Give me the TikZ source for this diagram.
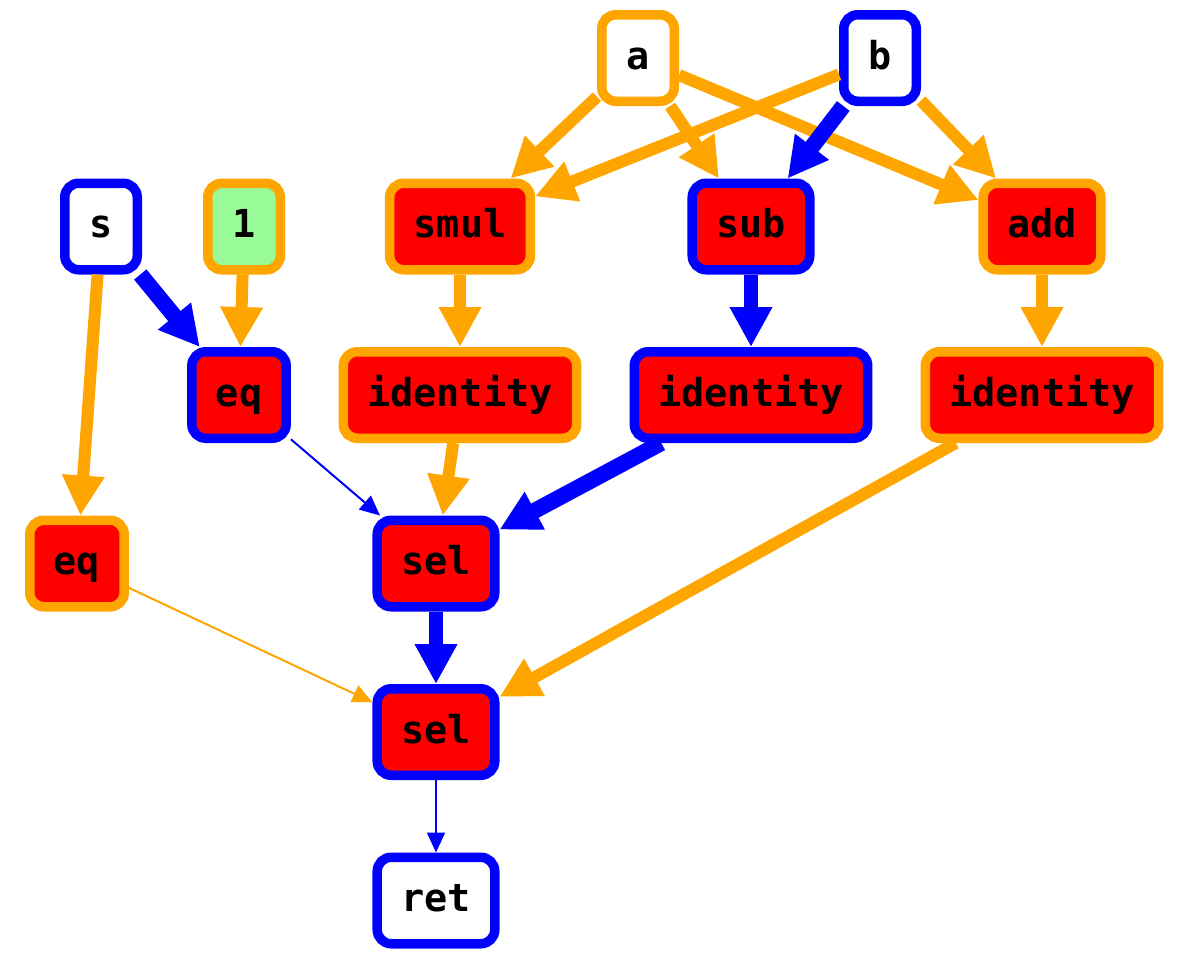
\documentclass[tikz,border=0pt]{standalone}
\usepackage{fontspec}
\setmainfont{DejaVu Sans Mono}
\usetikzlibrary{arrows.meta}
\definecolor{gorange}{HTML}{FFA500}
\definecolor{gblue}{HTML}{0000FF}
\definecolor{gred}{HTML}{FF0000}
\definecolor{ggreen}{HTML}{98FB98}
\begin{document}
\begin{tikzpicture}[x=1pt,y=-1pt,
  box/.style={rounded corners=14pt, line width=9.5pt, minimum height=86.5pt, minimum width=72.5pt,
    inner xsep=24pt, inner ysep=0pt, text height=22pt, text depth=0pt,
    font=\fontsize{38.5}{38.5}\selectfont\bfseries},
  ob/.style={box, draw=gorange},
  bb/.style={box, draw=gblue},
  redf/.style={fill=gred},
  thick edge/.style={-{Triangle[length=40pt,width=40pt]}},
  thin edge/.style={line width=2pt, -{Triangle[length=20pt,width=18pt]}},
  oe/.style={draw=gorange, fill=gorange},
  be/.style={draw=gblue, fill=gblue}
]
\useasboundingbox (0,0) rectangle (1182,967);
% nodes
\node[ob, fill=white] (a) at (638,58) {a};
\node[bb, fill=white] (b) at (880,58) {b};
\node[bb, fill=white] (s) at (101,226.5) {s};
\node[ob, fill=ggreen] (one) at (244,226.5) {1};
\node[ob, redf] (smul) at (460,226.5) {smul};
\node[bb, redf] (sub) at (751,226.5) {sub};
\node[ob, redf] (add) at (1042,226.5) {add};
\node[bb, redf] (eqb) at (239,395) {eq};
\node[ob, redf] (id1) at (460,395) {identity};
\node[bb, redf] (id2) at (751,395) {identity};
\node[ob, redf] (id3) at (1042,395) {identity};
\node[ob, redf] (eqo) at (77,563.5) {eq};
\node[bb, redf] (sel1) at (436,563.5) {sel};
\node[bb, redf] (sel2) at (436,732) {sel};
\node[bb, fill=white] (ret) at (436,900.5) {ret};
% edges
\draw[oe, thick edge, line width=12pt] (a) -- (smul);
\draw[oe, thick edge, line width=12pt] (a) -- (sub);
\draw[oe, thick edge, line width=12pt] (a) -- (add);
\draw[oe, thick edge, line width=12pt] (b) -- (smul);
\draw[be, thick edge, line width=16pt] (b) -- (sub);
\draw[oe, thick edge, line width=12pt] (b) -- (add);
\draw[be, thick edge, line width=16pt] (s) -- (eqb);
\draw[oe, thick edge, line width=12pt] (s) -- (eqo);
\draw[oe, thick edge, line width=12pt] (one) -- (eqb);
\draw[oe, thick edge, line width=12pt] (smul) -- (id1);
\draw[be, thick edge, line width=14pt] (sub) -- (id2);
\draw[oe, thick edge, line width=12pt] (add) -- (id3);
\draw[be, thin edge] (eqb) -- (sel1);
\draw[oe, thick edge, line width=12pt] (id1) -- (sel1);
\draw[be, thick edge, line width=16pt] (id2) -- (sel1);
\draw[be, thick edge, line width=14pt] (sel1) -- (sel2);
\draw[oe, thick edge, line width=12pt] (id3) -- (sel2);
\draw[oe, thin edge] (eqo) -- (sel2);
\draw[be, thin edge] (sel2) -- (ret);
\end{tikzpicture}
\end{document}
